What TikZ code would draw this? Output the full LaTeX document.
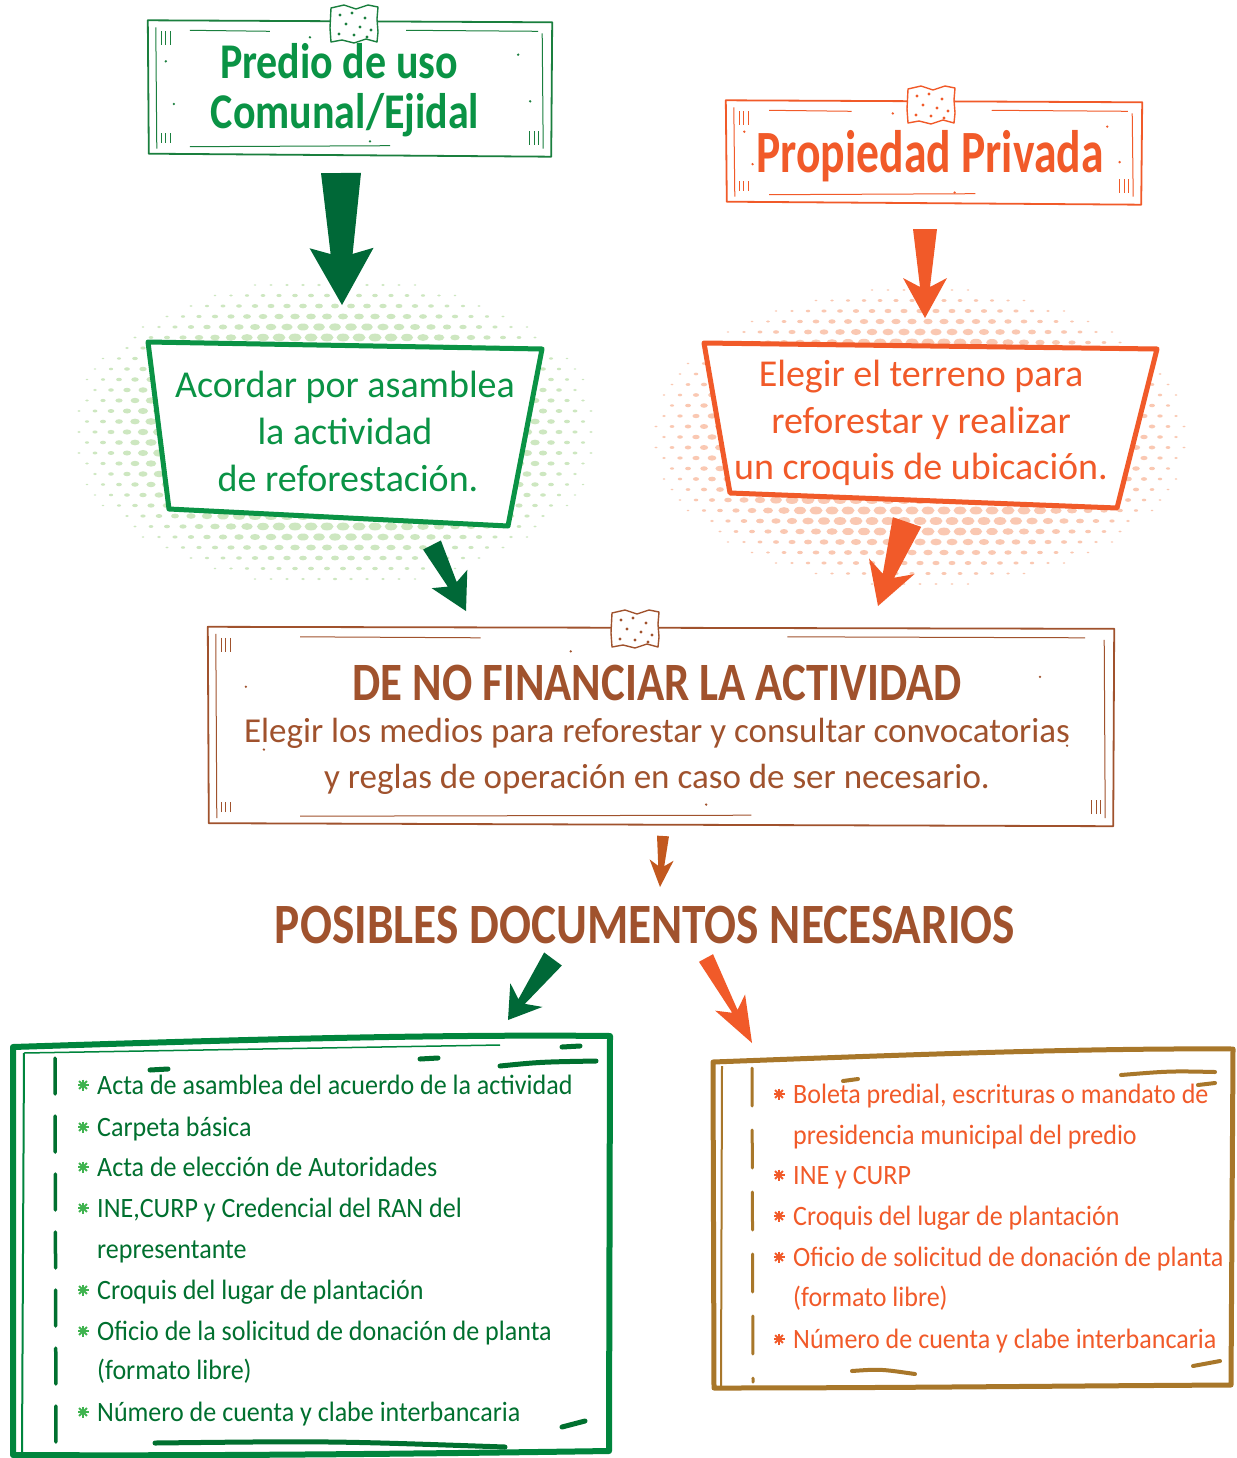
\documentclass[tikz,border=0pt]{standalone}
\usepackage{fontspec}
\setmainfont{Carlito}
\newfontfamily\handfont[FakeStretch=0.93]{Carlito}
\newfontfamily\titlefont[FakeStretch=0.76]{Carlito}
\newfontfamily\predfont[FakeStretch=0.84]{Carlito}
\newfontfamily\capsfont[FakeStretch=0.83]{Carlito}
\usetikzlibrary{calc,positioning}

\definecolor{grn}{HTML}{0A9345}
\definecolor{frmgrn}{HTML}{1A7F3E}
\definecolor{dkgrn}{HTML}{006837}
\definecolor{boxgrn}{HTML}{00853D}
\definecolor{listgrn}{HTML}{00702F}
\definecolor{stargrn}{HTML}{3FB34F}
\definecolor{lgrn}{HTML}{CDE7C0}
\definecolor{org}{HTML}{F15A29}
\definecolor{lorg}{HTML}{FAC8B2}
\definecolor{brn}{HTML}{A0522D}
\definecolor{brnarrow}{HTML}{C2581E}
\definecolor{gold}{HTML}{A8772A}

\tikzset{
  frametext/.style={inner sep=0pt, align=center},
  listline/.style={anchor=base west, inner sep=0pt, font=\handfont\fontsize{28}{30}\selectfont},
  lstar/.pic={\foreach \a in {0,45,90,135}\draw[line width=1.9pt] (\a:5.5pt) -- (\a+180:5.5pt);
              \fill (0,0) circle[radius=2pt];},
}

% filled arrow: colour, from, to, shaft half width (start), (end), head half width, head length, notch
\newcommand\blockarr[8]{%
  \coordinate (ba-h) at ($(#3)!#7!(#2)$);
  \coordinate (ba-j) at ($(ba-h)!#8!(#3)$);
  \fill[#1] ($(#2)!#4!90:(#3)$) -- ($(ba-j)!#5!90:(#3)$) -- ($(ba-h)!#6!90:(#3)$) -- (#3)
    -- ($(ba-h)!#6!-90:(#3)$) -- ($(ba-j)!#5!-90:(#3)$) -- ($(#2)!#4!-90:(#3)$) -- cycle;
}

% hand drawn frame round a node
\newcommand\sketchframe[2]{%
  \draw[#2, line width=1.8pt, line join=round] ([shift={(-2pt,1pt)}]#1.north west) -- ([shift={(2pt,-1pt)}]#1.north east)
    -- ([shift={(1pt,-2pt)}]#1.south east) -- ([shift={(-1pt,1pt)}]#1.south west) -- cycle;
  \draw[#2, line width=1pt] ($(#1.north west)!0.1!(#1.north east)+(0,-9pt)$) -- ($(#1.north west)!0.3!(#1.north east)+(0,-10pt)$);
  \draw[#2, line width=1pt] ($(#1.north west)!0.64!(#1.north east)+(0,-9pt)$) -- ($(#1.north west)!0.97!(#1.north east)+(0,-10pt)$);
  \draw[#2, line width=1pt] ($(#1.south west)!0.1!(#1.south east)+(0,8pt)$) -- ($(#1.south west)!0.6!(#1.south east)+(0,9pt)$);
  \draw[#2, line width=1pt] ($(#1.north west)+(6pt,-6pt)$) -- ($(#1.south west)+(7pt,6pt)$);
  \draw[#2, line width=1pt] ($(#1.north east)+(-8pt,-12pt)$) -- ($(#1.south east)+(-7pt,6pt)$);
  \foreach \k in {12,16,21}{
    \draw[#2, line width=0.7pt] ($(#1.north west)+(\k pt,-10pt)$) -- ++(0,-14pt);
    \draw[#2, line width=0.7pt] ($(#1.south east)+(-\k pt,10pt)$) -- ++(0,14pt);
    \draw[#2, line width=0.7pt] ($(#1.south west)+(\k pt,12pt)$) -- ++(0,10pt);
  }
  \foreach \p/\q in {0.04/0.3, 0.06/0.62, 0.92/0.25, 0.95/0.6, 0.4/0.12, 0.55/0.9}
    \fill[#2] ($(#1.north west)!\p!(#1.north east)!\q!($(#1.south west)!\p!(#1.south east)$)$) circle[radius=1.3pt];
}

% tape patch on a frame
\newcommand\sketchtape[2]{%
  \begin{scope}[shift={(#1)}]
    \filldraw[fill=white, draw=#2, line width=1.4pt, line join=round] (-23,-16) -- (-10,-19) -- (2,-15) -- (14,-19) -- (24,-17)
      -- (23,-5) -- (24,8) -- (23,18) -- (12,15) -- (0,19) -- (-12,16) -- (-23,18) -- (-24,4) -- cycle;
    \foreach \p in {(-14,-9),(-2,-11),(11,-6),(-8,0),(6,3),(17,6),(-15,10),(0,11),(13,13)}
      \fill[#2] \p circle[radius=1.6pt];
  \end{scope}
}

% halftone dots: centre x, centre y, x radius, y radius, colour
\newcommand\halftone[5]{%
  \foreach \j in {-16,...,16}{%
    \foreach \i in {-18,...,18}{%
      \pgfmathsetmacro\hx{\i*16+8*mod(abs(\j),2)}%
      \pgfmathsetmacro\hy{\j*10.5}%
      \pgfmathsetmacro\hd{1-sqrt((\hx/#3)^2+(\hy/#4)^2)}%
      \ifdim\hd pt>0.03pt
        \pgfmathsetmacro\hr{min(6.5,0.8+15*\hd)}%
        \fill[#5] (#1+\hx,#2+\hy) ellipse[x radius=\hr pt, y radius=0.6*\hr pt];
      \fi
    }}%
}

\begin{document}
\begin{tikzpicture}[x=1pt, y=-1pt]
\useasboundingbox (0,0) rectangle (1236,1458);
\fill[white] (0,0) rectangle (1236,1458);

% title frames
\node[frametext, minimum width=400pt, minimum height=133pt] (predbox) at (350,88) {};
\sketchframe{predbox}{frmgrn}
\sketchtape{354,24}{frmgrn}
\node[frametext, text=grn, font=\predfont\bfseries\fontsize{50}{50}\selectfont, anchor=base] (pred1) at (339,79) {Predio de uso};
\node[frametext, text=grn, font=\predfont\bfseries\fontsize{50}{50}\selectfont, anchor=base] (pred2) at (345,129) {Comunal/Ejidal};

\node[frametext, minimum width=412pt, minimum height=101pt] (privbox) at (934,152) {};
\sketchframe{privbox}{org}
\sketchtape{931,105}{org}
\node[frametext, text=org, font=\titlefont\bfseries\fontsize{60}{60}\selectfont] (priv) at (930,156) {Propiedad Privada};

% halftone clouds
\halftone{335}{432}{272}{160}{lgrn}
\halftone{920}{437}{278}{155}{lorg}

% step boxes
\draw[grn, line width=5pt, fill=white, line join=round] (148,342) -- (542,349) -- (508,526) -- (169,509) -- cycle;
\node[frametext, text=grn, font=\fontsize{38}{47}\selectfont] (acord) at (345,431)
  {Acordar por asamblea\\la actividad\\\hspace*{6pt}de reforestación.};
\draw[org, line width=5pt, fill=white, line join=round] (704,343) -- (1157,349) -- (1117,508) -- (730,493) -- cycle;
\node[frametext, text=org, font=\fontsize{38}{46.5}\selectfont] (elegir) at (921,423)
  {Elegir el terreno para\\reforestar y realizar\\un croquis de ubicación.};

% financing frame
\node[frametext, minimum width=902pt, minimum height=196pt] (finbox) at (661,726) {};
\sketchframe{finbox}{brn}
\sketchtape{635,629}{brn}
\node[frametext, text=brn, font=\capsfont\bfseries\fontsize{54}{54}\selectfont] (nofin) at (657,683) {DE NO FINANCIAR LA ACTIVIDAD};
\node[frametext, text=brn, font=\fontsize{35}{46}\selectfont] (medios) at (657,756)
  {Elegir los medios para reforestar y consultar convocatorias\\y reglas de operación en caso de ser necesario.};

\node[frametext, text=brn, font=\capsfont\bfseries\fontsize{57}{57}\selectfont] (posib) at (645,925) {POSIBLES DOCUMENTOS NECESARIOS};

% arrows
\coordinate (a1s) at (341,173); \coordinate (a1e) at (342,305);
\coordinate (a2s) at (925,229); \coordinate (a2e) at (925,318);
\coordinate (a3s) at (432,545); \coordinate (a3e) at (466,611);
\coordinate (a4s) at (907,522); \coordinate (a4e) at (878,606);
\coordinate (a5s) at (663,836); \coordinate (a5e) at (660,887);
\coordinate (a6s) at (553,959); \coordinate (a6e) at (508,1020);
\coordinate (a7s) at (706,958); \coordinate (a7e) at (752,1043);
\blockarr{dkgrn}{a1s}{a1e}{20pt}{11pt}{32pt}{57pt}{6pt}
\blockarr{org}{a2s}{a2e}{12pt}{5pt}{22pt}{40pt}{9pt}
\blockarr{dkgrn}{a3s}{a3e}{10pt}{5pt}{20pt}{36pt}{6pt}
\blockarr{org}{a4s}{a4e}{15pt}{6pt}{24pt}{42pt}{10pt}
\blockarr{brnarrow}{a5s}{a5e}{6pt}{3pt}{12pt}{27pt}{6pt}
\blockarr{dkgrn}{a6s}{a6e}{11pt}{4pt}{20pt}{31pt}{8pt}
\blockarr{org}{a7s}{a7e}{8pt}{3pt}{17pt}{46pt}{10pt}

% list for communal land
\draw[boxgrn, line width=6pt, line join=round] (13,1047) .. controls (200,1041) and (420,1034) .. (610,1036)
  -- (609,1451) .. controls (400,1454) and (200,1456) .. (13,1455) -- cycle;
\draw[boxgrn, line width=2pt] (24,1053) -- (22,1454);
\draw[boxgrn, line width=1.5pt] (24,1053) -- (500,1045);
\draw[listgrn, line width=3.5pt, line cap=round, dash pattern=on 36pt off 22pt] (55,1058) -- (56,1450);
\foreach \p/\q in {150/1070, 420/1059, 562/1047}
  \draw[listgrn, line width=5pt, line cap=round] (\p,\q) -- ++(18,-1);
\draw[listgrn, line width=5pt, line cap=round] (500,1066) .. controls (540,1062) .. (596,1061);
\draw[listgrn, line width=5pt, line cap=round] (155,1443) .. controls (330,1441) .. (505,1447);
\draw[listgrn, line width=5pt, line cap=round] (562,1427) -- (585,1421);
\foreach \t/\yy/\s [count=\k] in {
  {Acta de asamblea del acuerdo de la actividad}/1094/1,
  {Carpeta básica}/1136/1,
  {Acta de elección de Autoridades}/1176/1,
  {INE,CURP y Credencial del RAN del}/1217/1,
  {representante}/1258/0,
  {Croquis del lugar de plantación}/1299/1,
  {Oficio de la solicitud de donación de planta}/1340/1,
  {(formato libre)}/1379/0,
  {Número de cuenta y clabe interbancaria}/1421/1}{
  \node[listline, text=listgrn] (gl\k) at (97,\yy) {\t};
  \ifnum\s=1 \pic[stargrn] at (83,\yy-9) {lstar}; \fi
}

% list for private land
\draw[gold, line width=5pt, line join=round] (713,1062) .. controls (900,1055) and (1080,1048) .. (1233,1049)
  -- (1231,1385) .. controls (1050,1386) and (880,1388) .. (714,1388) -- cycle;
\draw[gold, line width=2pt] (722,1066) -- (721,1386);
\draw[gold, line width=3pt, line cap=round, dash pattern=on 38pt off 24pt] (752,1068) -- (753,1382);
\draw[gold, line width=4pt, line cap=round] (843,1081) -- (858,1079);
\draw[gold, line width=4pt, line cap=round] (1121,1075) .. controls (1170,1071) .. (1215,1072);
\draw[gold, line width=4pt, line cap=round] (1198,1085) -- (1215,1083);
\draw[gold, line width=4pt, line cap=round] (852,1371) .. controls (880,1369) .. (915,1374);
\draw[gold, line width=4pt, line cap=round] (1193,1366) -- (1220,1361);
\foreach \t/\yy/\s [count=\k] in {
  {Boleta predial, escrituras o mandato de}/1103/1,
  {presidencia municipal del predio}/1144/0,
  {INE y CURP}/1184/1,
  {Croquis del lugar de plantación}/1225/1,
  {Oficio de solicitud de donación de planta}/1266/1,
  {(formato libre)}/1306/0,
  {Número de cuenta y clabe interbancaria}/1348/1}{
  \node[listline, text=org] (pl\k) at (793,\yy) {\t};
  \ifnum\s=1 \pic[org] at (779,\yy-9) {lstar}; \fi
}
\end{tikzpicture}
\end{document}
